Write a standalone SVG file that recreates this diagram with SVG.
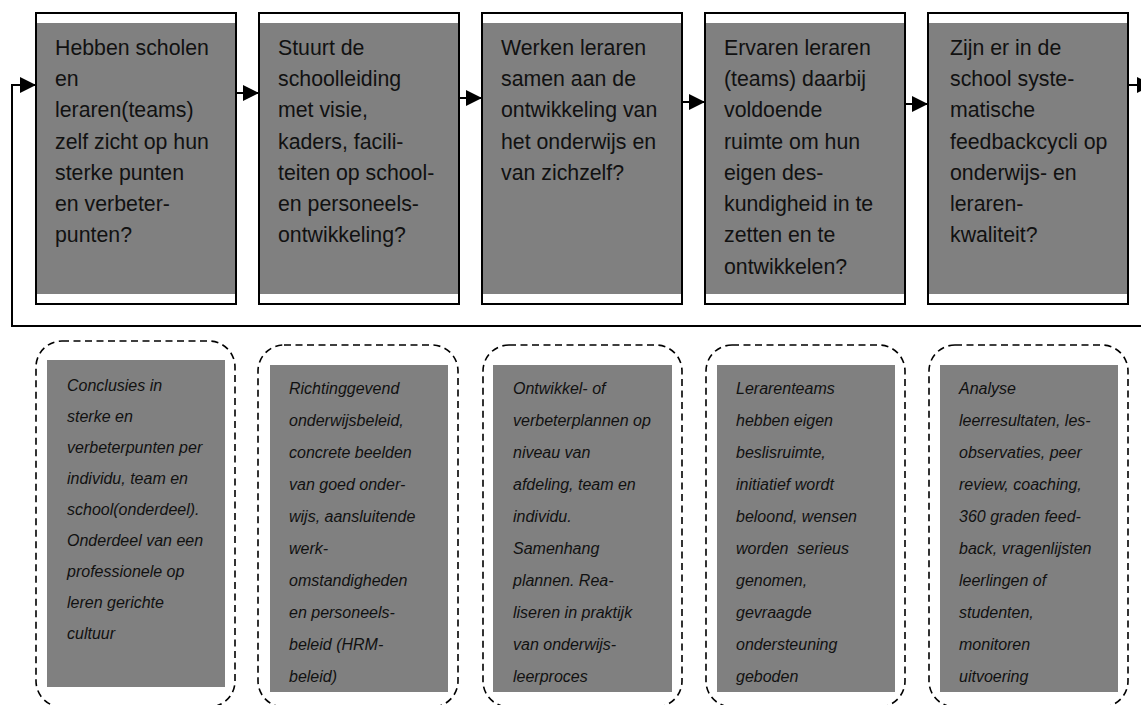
<svg xmlns="http://www.w3.org/2000/svg" width="1141" height="705" viewBox="0 0 1141 705">
<defs>
<marker id="ah" markerUnits="userSpaceOnUse" markerWidth="16" markerHeight="16" refX="16" refY="8" orient="auto">
<path d="M0,0 L16,8 L0,16 z" fill="#000"/>
</marker>
<style>
.frame{fill:#fff;stroke:#000;stroke-width:2}
.fill{fill:#808080}
.q{font-family:"Liberation Sans",Arial,sans-serif;font-size:21.3px;fill:#111}
.d{font-family:"Liberation Sans",Arial,sans-serif;font-size:16px;font-style:italic;fill:#111}
.dash{fill:none;stroke:#000;stroke-width:1.6;stroke-dasharray:7 4.5}
.conn{fill:none;stroke:#000;stroke-width:2}
</style>
</defs>
<rect width="1141" height="705" fill="#fff"/>

<g id="q1">
<rect class="frame" x="36" y="13" width="200" height="291"/>
<rect class="fill" x="37" y="23" width="198" height="271"/>
<text class="q"><tspan x="55" y="55">Hebben scholen</tspan><tspan x="55" y="86">en</tspan><tspan x="55" y="117">leraren(teams)</tspan><tspan x="55" y="149">zelf zicht op hun</tspan><tspan x="55" y="180">sterke punten</tspan><tspan x="55" y="211">en verbeter-</tspan><tspan x="55" y="242">punten?</tspan></text>
</g>
<g id="q2">
<rect class="frame" x="259" y="13" width="200" height="291"/>
<rect class="fill" x="260" y="23" width="198" height="271"/>
<text class="q"><tspan x="278" y="55">Stuurt de</tspan><tspan x="278" y="86">schoolleiding</tspan><tspan x="278" y="117">met visie,</tspan><tspan x="278" y="149">kaders, facili-</tspan><tspan x="278" y="180">teiten op school-</tspan><tspan x="278" y="211">en personeels-</tspan><tspan x="278" y="242">ontwikkeling?</tspan></text>
</g>
<g id="q3">
<rect class="frame" x="482" y="13" width="200" height="291"/>
<rect class="fill" x="483" y="23" width="198" height="271"/>
<text class="q"><tspan x="501" y="55">Werken leraren</tspan><tspan x="501" y="86">samen aan de</tspan><tspan x="501" y="117">ontwikkeling van</tspan><tspan x="501" y="149">het onderwijs en</tspan><tspan x="501" y="180">van zichzelf?</tspan></text>
</g>
<g id="q4">
<rect class="frame" x="705" y="13" width="200" height="291"/>
<rect class="fill" x="706" y="23" width="198" height="271"/>
<text class="q"><tspan x="724" y="55">Ervaren leraren</tspan><tspan x="724" y="86">(teams) daarbij</tspan><tspan x="724" y="117">voldoende</tspan><tspan x="724" y="149">ruimte om hun</tspan><tspan x="724" y="180">eigen des-</tspan><tspan x="724" y="211">kundigheid in te</tspan><tspan x="724" y="242">zetten en te</tspan><tspan x="724" y="274">ontwikkelen?</tspan></text>
</g>
<g id="q5">
<rect class="frame" x="928" y="13" width="200" height="291"/>
<rect class="fill" x="929" y="23" width="198" height="271"/>
<text class="q"><tspan x="950" y="55">Zijn er in de</tspan><tspan x="950" y="86">school syste-</tspan><tspan x="950" y="117">matische</tspan><tspan x="950" y="149">feedbackcycli op</tspan><tspan x="950" y="180">onderwijs- en</tspan><tspan x="950" y="211">leraren-</tspan><tspan x="950" y="242">kwaliteit?</tspan></text>
</g>

<g id="connectors">
<path class="conn" d="M1141,326 H12 V85 H36" marker-end="url(#ah)"/>
<path class="conn" d="M236,93 H259" marker-end="url(#ah)"/>
<path class="conn" d="M459,98 H482" marker-end="url(#ah)"/>
<path class="conn" d="M682,102 H705" marker-end="url(#ah)"/>
<path class="conn" d="M905,104 H928" marker-end="url(#ah)"/>
<path class="conn" d="M1128,85 H1153" marker-end="url(#ah)"/>
</g>

<g id="d1">
<rect class="dash" x="36" y="341" width="199" height="366" rx="26"/>
<rect class="fill" x="47" y="360" width="178" height="327"/>
<text class="d"><tspan x="67" y="391">Conclusies in</tspan><tspan x="67" y="422">sterke en</tspan><tspan x="67" y="453">verbeterpunten per</tspan><tspan x="67" y="484">individu, team en</tspan><tspan x="67" y="515">school(onderdeel).</tspan><tspan x="67" y="546">Onderdeel van een</tspan><tspan x="67" y="577">professionele op</tspan><tspan x="67" y="608">leren gerichte</tspan><tspan x="67" y="639">cultuur</tspan></text>
</g>
<g id="d2">
<rect class="dash" x="258" y="345" width="200" height="362" rx="26"/>
<rect class="fill" x="270" y="365" width="178" height="327"/>
<text class="d"><tspan x="289" y="394">Richtinggevend</tspan><tspan x="289" y="426">onderwijsbeleid,</tspan><tspan x="289" y="458">concrete beelden</tspan><tspan x="289" y="490">van goed onder-</tspan><tspan x="289" y="522">wijs, aansluitende</tspan><tspan x="289" y="554">werk-</tspan><tspan x="289" y="586">omstandigheden</tspan><tspan x="289" y="618">en personeels-</tspan><tspan x="289" y="650">beleid (HRM-</tspan><tspan x="289" y="682">beleid)</tspan></text>
</g>
<g id="d3">
<rect class="dash" x="483" y="345" width="199" height="362" rx="26"/>
<rect class="fill" x="493" y="365" width="179" height="327"/>
<text class="d"><tspan x="513" y="394">Ontwikkel- of</tspan><tspan x="513" y="426">verbeterplannen op</tspan><tspan x="513" y="458">niveau van</tspan><tspan x="513" y="490">afdeling, team en</tspan><tspan x="513" y="522">individu.</tspan><tspan x="513" y="554">Samenhang</tspan><tspan x="513" y="586">plannen. Rea-</tspan><tspan x="513" y="618">liseren in praktijk</tspan><tspan x="513" y="650">van onderwijs-</tspan><tspan x="513" y="682">leerproces</tspan></text>
</g>
<g id="d4">
<rect class="dash" x="706" y="345" width="199" height="362" rx="26"/>
<rect class="fill" x="717" y="365" width="178" height="327"/>
<text class="d"><tspan x="736" y="394">Lerarenteams</tspan><tspan x="736" y="426">hebben eigen</tspan><tspan x="736" y="458">beslisruimte,</tspan><tspan x="736" y="490">initiatief wordt</tspan><tspan x="736" y="522">beloond, wensen</tspan><tspan x="736" y="554" xml:space="preserve">worden  serieus</tspan><tspan x="736" y="586">genomen,</tspan><tspan x="736" y="618">gevraagde</tspan><tspan x="736" y="650">ondersteuning</tspan><tspan x="736" y="682">geboden</tspan></text>
</g>
<g id="d5">
<rect class="dash" x="929" y="345" width="199" height="362" rx="26"/>
<rect class="fill" x="940" y="365" width="178" height="327"/>
<text class="d"><tspan x="959" y="394">Analyse</tspan><tspan x="959" y="426">leerresultaten, les-</tspan><tspan x="959" y="458">observaties, peer</tspan><tspan x="959" y="490">review, coaching,</tspan><tspan x="959" y="522">360 graden feed-</tspan><tspan x="959" y="554">back, vragenlijsten</tspan><tspan x="959" y="586">leerlingen of</tspan><tspan x="959" y="618">studenten,</tspan><tspan x="959" y="650">monitoren</tspan><tspan x="959" y="682">uitvoering</tspan></text>
</g>
</svg>
